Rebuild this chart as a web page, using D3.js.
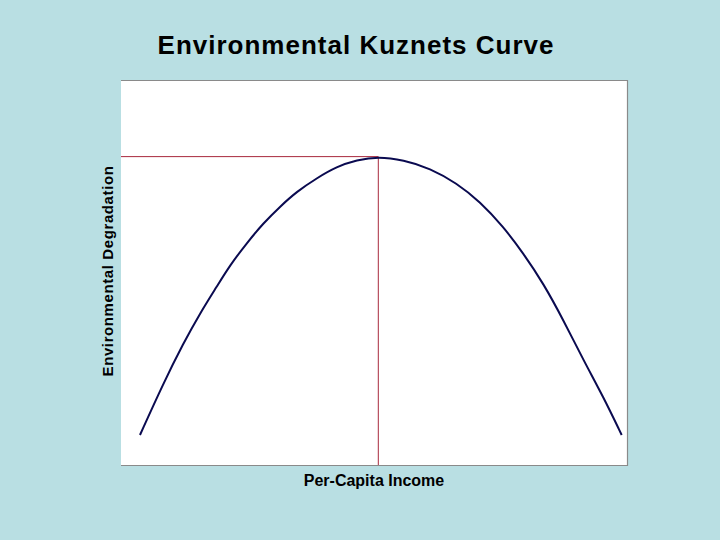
<!DOCTYPE html>
<html>
<head>
<meta charset="utf-8">
<script src="https://cdn.jsdelivr.net/npm/d3@7"></script>
<style>
  body { margin: 0; background: #b9dfe3; }
  text { font-family: "Liberation Sans", Arial, sans-serif; font-weight: bold; fill: #000; }
</style>
</head>
<body>
<div id="chart"></div>
<script>
// Chart size
var w = 720;
var h = 540;

// Curve (income vs degradation, 0-100 units)
var income = [3.75, 8.36, 12.31, 15.61, 18.91, 21.54, 24.84, 28.12, 31.42, 34.72, 38.68, 42.63, 46.58, 50.85,
              55.79, 61.07, 66.34, 70.95, 75.55, 79.51, 83.46, 87.41, 91.36, 95.32, 98.95];
var degradation = [7.8, 21.2, 31.6, 39.4, 46.3, 51.9, 57.6, 62.8, 67.1, 71.0, 74.5, 77.5, 79.2, 80.1,
                   79.2, 77.1, 73.2, 68.4, 61.9, 55.0, 47.2, 37.7, 27.3, 17.7, 7.8];

// Turning point of the curve
var peakIncome = 50.85;
var peakDegradation = 80.1;

var title = "Environmental Kuznets Curve";
var xLabel = "Per-Capita Income";
var yLabel = "Environmental Degradation";

// Plot area
var plotLeft = 121, plotRight = 627, plotTop = 80, plotBottom = 465;

var x = d3.scaleLinear().domain([0, 100]).range([plotLeft, plotRight]);
var y = d3.scaleLinear().domain([0, 100]).range([plotBottom, plotTop]);

var svg = d3.select("#chart")
    .append("svg")
    .attr("width", w)
    .attr("height", h);

// Background
svg.append("rect")
    .attr("width", w)
    .attr("height", h)
    .style("fill", "#b9dfe3");

// White plot area
svg.append("rect")
    .attr("x", plotLeft)
    .attr("y", plotTop)
    .attr("width", plotRight - plotLeft)
    .attr("height", plotBottom - plotTop)
    .style("fill", "#fff");

// Gray frame on top, right and bottom
svg.append("path")
    .attr("d", "M" + plotLeft + "," + (plotTop + 0.5) + "H" + (plotRight + 0.5) +
               "V" + (plotBottom + 0.5) + "H" + plotLeft)
    .style("fill", "none")
    .style("stroke", "#8a8a8a")
    .style("stroke-width", 1.2);

// Red guide lines to the turning point
svg.append("line")
    .attr("x1", x(0))
    .attr("x2", x(peakIncome))
    .attr("y1", y(peakDegradation))
    .attr("y2", y(peakDegradation))
    .style("stroke", "#a8283c")
    .style("stroke-width", 1);

svg.append("line")
    .attr("x1", x(peakIncome))
    .attr("x2", x(peakIncome))
    .attr("y1", y(peakDegradation))
    .attr("y2", y(0))
    .style("stroke", "#a8283c")
    .style("stroke-width", 1);

// The curve (basis spline to even out reading noise)
var points = income.map(function(d, i) { return [d, degradation[i]]; });

var line = d3.line()
    .x(function(d) { return x(d[0]); })
    .y(function(d) { return y(d[1]); })
    .curve(d3.curveBasis);

svg.append("path")
    .datum(points)
    .attr("d", line)
    .style("fill", "none")
    .style("stroke", "#0a0a50")
    .style("stroke-width", 2);

// Texts
svg.append("text")
    .attr("x", 356)
    .attr("y", 54)
    .attr("text-anchor", "middle")
    .style("font-size", "26px")
    .style("letter-spacing", "1px")
    .text(title);

svg.append("text")
    .attr("x", 374)
    .attr("y", 486)
    .attr("text-anchor", "middle")
    .style("font-size", "16px")
    .text(xLabel);

svg.append("text")
    .attr("transform", "translate(113,271) rotate(-90)")
    .attr("text-anchor", "middle")
    .style("font-size", "15px")
    .style("letter-spacing", "0.6px")
    .text(yLabel);
</script>
</body>
</html>
